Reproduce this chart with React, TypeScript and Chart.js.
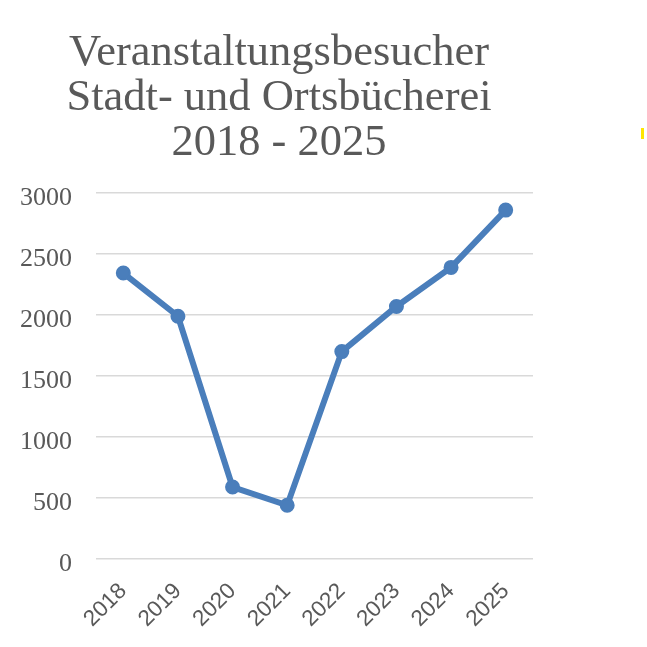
import React, { useEffect, useRef } from "react";
import { Chart, registerables } from "chart.js";

Chart.register(...registerables);

const titleLines = ["Veranstaltungsbesucher", "Stadt- und Ortsbücherei", "2018 - 2025"];
const years = ["2018", "2019", "2020", "2021", "2022", "2023", "2024", "2025"];
const visitors = [2344, 1990, 590, 440, 1700, 2070, 2390, 2860];
const yMin = 0;
const yMax = 3000;
const yStep = 500;

const BLUE = "#4a7ebb";
const GREY_TEXT = "#595959";
const GRID = "#d9d9d9";

// Shift the title block so it is centred where the reference centres it.
const titleShift = {
  id: "titleShift",
  afterLayout(chart: any) {
    const t = chart.titleBlock;
    if (t) {
      t.left += 6.5;
      t.right += 6.5;
    }
  },
};

export default function App() {
  const canvasRef = useRef<HTMLCanvasElement | null>(null);

  useEffect(() => {
    const canvas = canvasRef.current;
    if (!canvas) return;
    const chart = new Chart(canvas, {
      type: "line",
      data: {
        labels: years,
        datasets: [
          {
            label: "Besucher",
            data: visitors,
            borderColor: BLUE,
            backgroundColor: BLUE,
            borderWidth: 6,
            pointRadius: 6.5,
            pointBorderWidth: 2,
            pointBackgroundColor: BLUE,
            pointBorderColor: BLUE,
            tension: 0,
            fill: false,
          },
        ],
      },
      options: {
        animation: false,
        responsive: false,
        maintainAspectRatio: false,
        layout: { padding: { left: 12, right: 114, top: 0, bottom: 0 } },
        plugins: {
          legend: { display: false },
          tooltip: { enabled: false },
          title: {
            display: true,
            text: titleLines,
            color: GREY_TEXT,
            align: "center",
            font: {
              family: "'Liberation Serif', 'Times New Roman', serif",
              size: 44.5,
              weight: "normal",
              lineHeight: "45px",
            },
            padding: { top: 31, bottom: 27 },
          },
        },
        scales: {
          x: {
            offset: true,
            grid: { display: false, drawTicks: false },
            border: { display: false },
            ticks: {
              color: GREY_TEXT,
              maxRotation: 45,
              minRotation: 45,
              padding: 19,
              font: { family: "'Liberation Sans', Arial, sans-serif", size: 22.5 },
            },
            afterFit: (scale: any) => {
              scale.height = 88;
            },
          },
          y: {
            min: yMin,
            max: yMax,
            grid: { color: GRID, lineWidth: 1.5, drawTicks: false },
            border: { display: false },
            ticks: {
              stepSize: yStep,
              color: GREY_TEXT,
              padding: 24,
              labelOffset: 5,
              font: { family: "'Liberation Serif', 'Times New Roman', serif", size: 26 },
              callback: (value: any) => String(value),
            },
            afterFit: (scale: any) => {
              scale.width = 84;
            },
          },
        },
      },
      plugins: [titleShift],
    });
    return () => chart.destroy();
  }, []);

  return (
    <div style={{ position: "absolute", left: 0, top: 0, width: 647, height: 647, background: "#fff" }}>
      <canvas ref={canvasRef} width={647} height={647} style={{ width: 647, height: 647, display: "block" }} />
      <div style={{ position: "absolute", left: 641, top: 128, width: 3, height: 11, background: "#ffe600" }} />
    </div>
  );
}
